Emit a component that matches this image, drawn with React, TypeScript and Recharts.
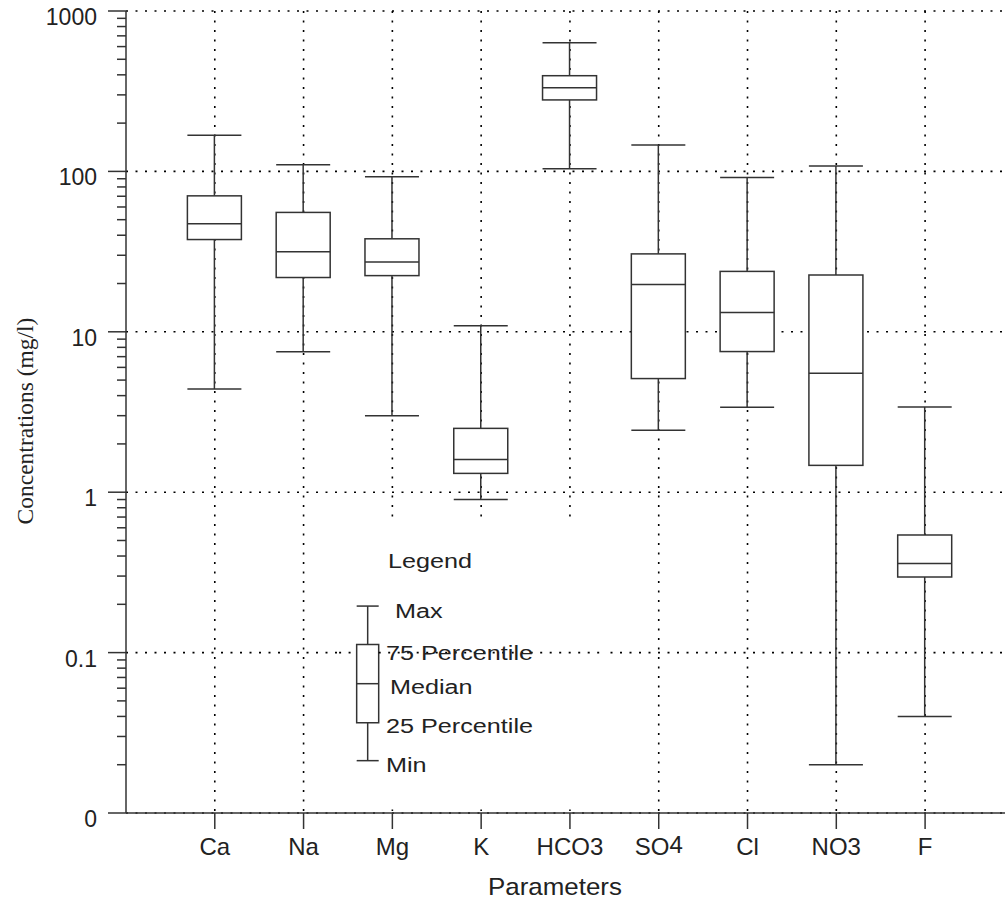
import React from "react";
import {
  ComposedChart,
  Bar,
  XAxis,
  YAxis,
  CartesianGrid,
  ReferenceArea,
  ReferenceLine,
} from "recharts";

// values (mg/l)
const categories = ["Ca", "Na", "Mg", "K", "HCO3", "SO4", "Cl", "NO3", "F"];
const minValues = [4.4, 7.5, 3.0, 0.9, 104, 2.43, 3.39, 0.02, 0.04];
const q1Values = [37.6, 21.8, 22.4, 1.31, 279, 5.11, 7.53, 1.47, 0.296];
const medianValues = [47.1, 31.5, 27.2, 1.6, 332, 19.7, 13.2, 5.52, 0.359];
const q3Values = [70.4, 55.5, 38, 2.5, 395, 30.6, 23.8, 22.6, 0.541];
const maxValues = [168, 110, 92.5, 10.9, 634, 146, 91.7, 108, 3.4];
const categoryPositions = [1, 2, 3, 4, 5, 6, 7, 8, 9];

// legend glyph: max, q3, median, q1, min
const legendStats = [0.195, 0.1125, 0.064, 0.0365, 0.0212];
const legendLabels = ["Max", "75 Percentile", "Median", "25 Percentile", "Min"];

const majorTicks = [0.01, 0.1, 1, 10, 100, 1000];
const majorTickLabels = ["0", "0.1", "1", "10", "100", "1000"];

// log minor ticks 2..9 in every decade
const minorTicks = majorTicks
  .slice(0, -1)
  .flatMap((base) => [2, 3, 4, 5, 6, 7, 8, 9].map((m) => +(m * base).toPrecision(3)));
const yTicks = [...majorTicks, ...minorTicks].sort((a, b) => a - b);

const data = categories.map((name, i) => ({
  x: categoryPositions[i],
  name,
  range: [minValues[i], maxValues[i]],
  min: minValues[i],
  q1: q1Values[i],
  median: medianValues[i],
  q3: q3Values[i],
  max: maxValues[i],
}));

const W = 1005;
const H = 899;
const SANS = '"Liberation Sans", Arial, Helvetica, sans-serif';
const SERIF = '"Liberation Serif", "Times New Roman", serif';
const INK = "#333";
const TEXT = "#222";
const DOTS = "2 7.5";

// legend layout (data units on the x axis)
const LEGEND_X = 2.722;
const LEGEND_HALF = 0.124;
const LEGEND_BG = { x1: 2.4, x2: 5.4, y1: 0.0105, y2: 0.668 };

const BoxShape = (props: any) => {
  const { x, y, width, height, payload } = props;
  if (!payload || !isFinite(y) || !isFinite(height)) return null;
  const top = Math.min(y, y + height);
  const bottom = Math.max(y, y + height);
  const lo = Math.log10(payload.min);
  const hi = Math.log10(payload.max);
  // y axis is logarithmic, so pixels are linear in log10(value)
  const py = (v: number) => bottom - ((Math.log10(v) - lo) / (hi - lo)) * (bottom - top);
  const cx = x + width / 2;
  const yQ3 = py(payload.q3);
  const yMed = py(payload.median);
  const yQ1 = py(payload.q1);
  return (
    <g stroke={INK} strokeWidth={1.5}>
      <line x1={cx} x2={cx} y1={top} y2={yQ3} />
      <line x1={cx} x2={cx} y1={yQ1} y2={bottom} />
      <line x1={x} x2={x + width} y1={top} y2={top} />
      <line x1={x} x2={x + width} y1={bottom} y2={bottom} />
      <rect x={x} y={yQ3} width={width} height={yQ1 - yQ3} fill="#fff" />
      <line x1={x} x2={x + width} y1={yMed} y2={yMed} />
    </g>
  );
};

const YTick = (props: any) => {
  const { x, y, payload } = props;
  const v = payload.value;
  const idx = majorTicks.findIndex((m) => Math.abs(m - v) < m * 1e-6);
  const major = idx >= 0;
  return (
    <g>
      <line x1={x - (major ? 18 : 9)} x2={x} y1={y} y2={y} stroke={INK} strokeWidth={1.5} />
      {major && (
        <text x={x - 29} y={y + 14} textAnchor="end" fontSize={23} fontFamily={SANS} fill={TEXT}>
          {majorTickLabels[idx]}
        </text>
      )}
    </g>
  );
};

const XTick = (props: any) => {
  const { x, y, payload } = props;
  const label = categories[categoryPositions.indexOf(payload.value)] ?? "";
  return (
    <text x={x} y={y + 26} textAnchor="middle" fontSize={24} fontFamily={SANS} fill={TEXT}>
      {label === "SO4" ? (
        <>
          SO<tspan dy={-2}>4</tspan>
        </>
      ) : (
        label
      )}
    </text>
  );
};

const legendTextPos = [
  [395, 618],
  [386, 659.5],
  [390, 694],
  [386, 732.7],
  [386, 771.7],
];

// titles and legend text, drawn on top of the chart
const Annotations = () => (
  <svg
    width={W}
    height={H}
    style={{ position: "absolute", left: 0, top: 0, pointerEvents: "none" }}
  >
    <g fill={TEXT}>
      <text
        transform="translate(33,421) rotate(-90)"
        textAnchor="middle"
        fontFamily={SERIF}
        fontSize={23.5}
      >
        Concentrations (mg/l)
      </text>
      <text transform="translate(555,895) scale(1.08,1)" textAnchor="middle" fontFamily={SANS} fontSize={24}>
        Parameters
      </text>
      <text transform="translate(388,568) scale(1.2,1)" fontFamily={SANS} fontSize={21}>
        Legend
      </text>
      {legendLabels.map((t, i) => (
        <text
          key={t}
          transform={`translate(${legendTextPos[i][0]},${legendTextPos[i][1]}) scale(1.2,1)`}
          fontFamily={SANS}
          fontSize={21}
        >
          {t}
        </text>
      ))}
    </g>
  </svg>
);

export default function App() {
  const [mx, q3, med, q1, mn] = legendStats;
  const lx1 = LEGEND_X - LEGEND_HALF;
  const lx2 = LEGEND_X + LEGEND_HALF;
  const seg = (xa: number, ya: number, xb: number, yb: number) => [
    { x: xa, y: ya },
    { x: xb, y: yb },
  ];
  return (
    <div style={{ position: "absolute", left: 0, top: 0, width: W, height: H, background: "#fff" }}>
      <ComposedChart width={W} height={H} data={data} margin={{ top: 11, right: 0, bottom: 0, left: 0 }}>
        <CartesianGrid
          stroke="#000"
          strokeWidth={1.6}
          strokeDasharray={DOTS}
          verticalValues={categoryPositions}
          horizontalValues={majorTicks}
        />
        <XAxis
          type="number"
          dataKey="x"
          domain={[0, 9.9]}
          ticks={categoryPositions}
          interval={0}
          allowDataOverflow
          height={86}
          tickSize={16}
          tickMargin={0}
          tickLine={{ stroke: INK, strokeWidth: 1.5 }}
          axisLine={{ stroke: INK, strokeWidth: 1.5 }}
          tick={<XTick />}
        />
        <YAxis
          type="number"
          scale="log"
          domain={[0.01, 1000]}
          ticks={yTicks}
          interval={0}
          allowDataOverflow
          width={126}
          tickSize={0}
          tickMargin={0}
          tickLine={false}
          axisLine={{ stroke: INK, strokeWidth: 1.5 }}
          tick={<YTick />}
        />
        {/* legend panel hides the vertical grid below it */}
        <ReferenceArea {...LEGEND_BG} fill="#fff" fillOpacity={1} stroke="none" />
        <ReferenceLine segment={seg(LEGEND_BG.x1, 0.1, lx1, 0.1)} stroke="#000" strokeWidth={1.6} strokeDasharray={DOTS} />
        <ReferenceLine segment={seg(lx2, 0.1, LEGEND_BG.x2, 0.1)} stroke="#000" strokeWidth={1.6} strokeDasharray={DOTS} />
        <ReferenceArea x1={lx1} x2={lx2} y1={q1} y2={q3} fill="none" stroke={INK} strokeWidth={1.5} />
        <ReferenceLine segment={seg(lx1, med, lx2, med)} stroke={INK} strokeWidth={1.5} />
        <ReferenceLine segment={seg(LEGEND_X, q3, LEGEND_X, mx)} stroke={INK} strokeWidth={1.5} />
        <ReferenceLine segment={seg(LEGEND_X, mn, LEGEND_X, q1)} stroke={INK} strokeWidth={1.5} />
        <ReferenceLine segment={seg(lx1, mx, lx2, mx)} stroke={INK} strokeWidth={1.5} />
        <ReferenceLine segment={seg(lx1, mn, lx2, mn)} stroke={INK} strokeWidth={1.5} />
        <Bar dataKey="range" barSize={54} shape={<BoxShape />} isAnimationActive={false} />
      </ComposedChart>
      <Annotations />
    </div>
  );
}
